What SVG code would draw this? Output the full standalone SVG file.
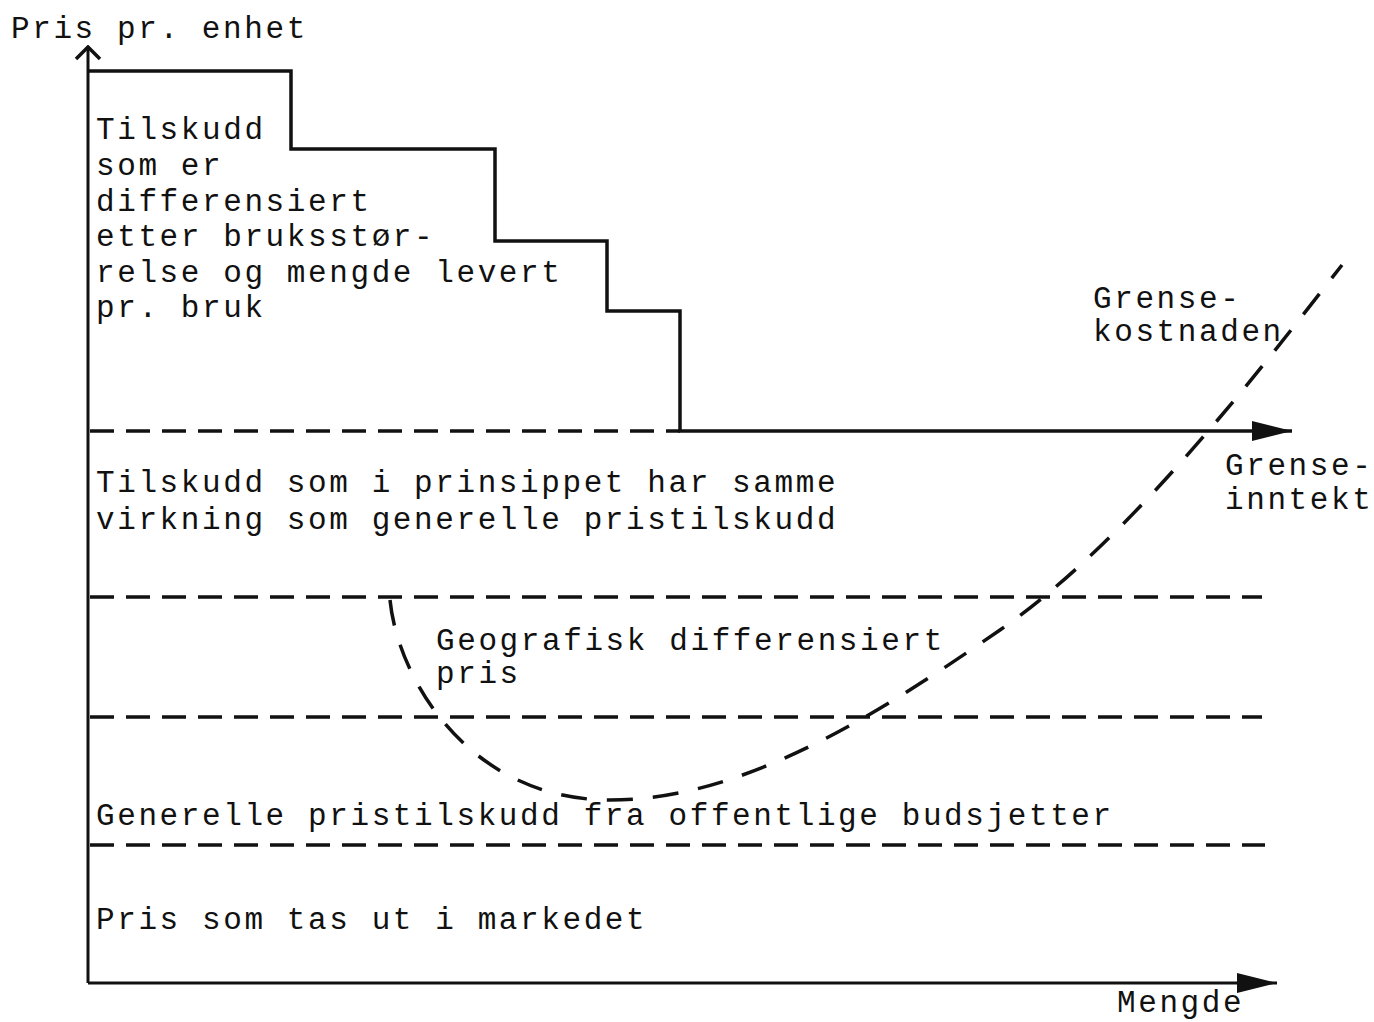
<svg xmlns="http://www.w3.org/2000/svg" width="1374" height="1022" viewBox="0 0 1374 1022">
<style>
text{font-family:"Liberation Mono","DejaVu Sans Mono",monospace;font-size:31px;letter-spacing:2.6px;fill:#111}
.ax{stroke:#111;stroke-width:3;fill:none}
.step{stroke:#111;stroke-width:3.5;fill:none;stroke-linejoin:miter}
.dash{stroke:#111;stroke-width:3.5;fill:none;stroke-dasharray:24 12}
.curve{stroke:#111;stroke-width:3.5;fill:none;stroke-dasharray:26 20}
</style>
<defs>
<marker id="fill" viewBox="0 0 40 20" refX="40" refY="10" markerWidth="40" markerHeight="20" markerUnits="userSpaceOnUse" orient="auto"><path d="M0,0 L40,10 L0,20 Z" fill="#111"/></marker>
<marker id="open" viewBox="0 0 28 16" refX="14" refY="2" markerWidth="28" markerHeight="16" markerUnits="userSpaceOnUse" orient="0"><path d="M2,14 L14,2 L26,14" fill="none" stroke="#111" stroke-width="3.5"/></marker>
</defs>
<rect width="1374" height="1022" fill="#fff"/>
<g id="connectors">
<path class="ax" d="M88,983 L88,47" marker-end="url(#open)"/>
<path class="ax" d="M88,983 L1277,983" marker-end="url(#fill)"/>
<path class="step" d="M88,71 L291,71 L291,149 L495,149 L495,241 L607,241 L607,311 L680,311 L680,431 L1292,431" marker-end="url(#fill)"/>
<path class="dash" d="M90,431 L680,431"/>
<path class="dash" d="M90,597 L1262,597"/>
<path class="dash" d="M90,717 L1262,717"/>
<path class="dash" d="M90,845 L1265,845"/>
<path class="curve" d="M390,600 C398,680 470,800 610,800 C740,800 870,720 1000,630 C1130,540 1260,370 1342,265"/>
</g>
<g id="axis-labels">
<text x="11" y="38">Pris pr. enhet</text>
<text x="1117" y="1012">Mengde</text>
</g>
<g id="label-differensiert">
<text x="96" y="139">Tilskudd</text>
<text x="96" y="175">som er</text>
<text x="96" y="211">differensiert</text>
<text x="96" y="246">etter bruksstør-</text>
<text x="96" y="282">relse og mengde levert</text>
<text x="96" y="317">pr. bruk</text>
</g>
<g id="label-prinsippet">
<text x="96" y="492">Tilskudd som i prinsippet har samme</text>
<text x="96" y="529">virkning som generelle pristilskudd</text>
</g>
<g id="label-geografisk">
<text x="436" y="650">Geografisk differensiert</text>
<text x="436" y="683">pris</text>
</g>
<g id="label-generelle">
<text x="96" y="825">Generelle pristilskudd fra offentlige budsjetter</text>
</g>
<g id="label-marked">
<text x="96" y="929">Pris som tas ut i markedet</text>
</g>
<g id="label-grensekostnaden">
<text x="1093" y="308">Grense-</text>
<text x="1093" y="341">kostnaden</text>
</g>
<g id="label-grenseinntekt">
<text x="1225" y="475">Grense-</text>
<text x="1225" y="509">inntekt</text>
</g>
</svg>
